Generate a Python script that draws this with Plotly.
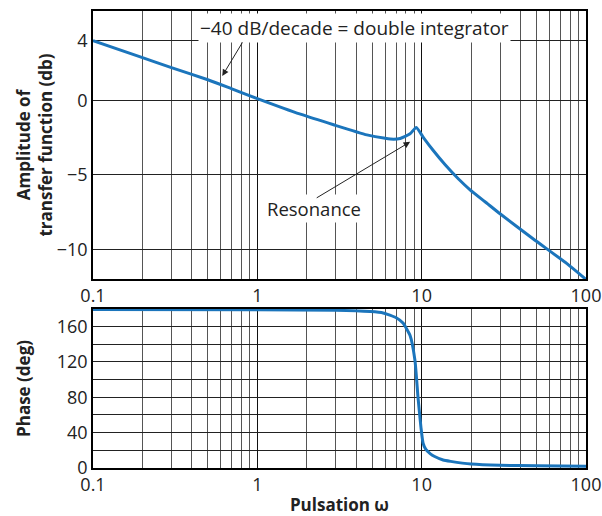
import numpy as np
import plotly.graph_objects as go

# ---- data ----
amp_w = [0.1, 0.2, 0.3, 0.5, 0.7, 1.0, 1.83, 2.91, 4.64, 6.0, 6.75, 7.4, 8.5, 9.27,
         10.3, 11.8, 13.9, 16.7, 19.7, 24.3, 30.0, 47.6, 76.6, 100]
amp_db = [4.0, 2.87, 2.2, 1.38, 0.77, 0.12, -0.93, -1.64, -2.32, -2.55, -2.61, -2.56, -2.25, -1.82,
          -2.54, -3.39, -4.33, -5.27, -6.01, -6.81, -7.62, -9.3, -10.97, -12.03]

ph_w = [0.1, 1.0, 3.0, 4.86, 5.83, 7.0, 7.7, 8.5, 9.1, 9.5, 9.9, 10.2, 10.6, 11.3, 12.0,
        13.5, 15.0, 20.0, 30.0, 50.0, 100.0]
ph_deg = [179.3, 179.0, 178.5, 177.0, 175.5, 170.0, 164.0, 150.0, 122.0, 80.0, 46.0, 28.0,
          21.0, 16.0, 13.0, 9.0, 7.5, 4.5, 3.0, 2.5, 2.0]

x_ticks = [0.1, 1, 10, 100]
x_tick_text = ["0.1", "1", "10", "100"]
x_minor = [m * d for d in (0.1, 1, 10) for m in range(2, 10)]
amp_ticks = [4, 0, -5, -10]
ph_ticks = [0, 40, 80, 120, 160]
ph_minor = [20, 60, 100, 140]

BLUE = "#1b75bc"
FONT = "Open Sans"
TXT = "#222"

fig = go.Figure()
fig.add_trace(go.Scatter(x=amp_w, y=amp_db, mode="lines", xaxis="x", yaxis="y",
                         line=dict(color=BLUE, width=3, shape="spline", smoothing=0.5),
                         showlegend=False))
fig.add_trace(go.Scatter(x=ph_w, y=ph_deg, mode="lines", xaxis="x2", yaxis="y2",
                         line=dict(color=BLUE, width=3, shape="spline", smoothing=0.5),
                         showlegend=False))

xcommon = dict(type="log", range=[-1, 2], tickvals=x_ticks, ticktext=x_tick_text,
               showgrid=True, gridcolor="#111", gridwidth=1.2,
               minor=dict(tickvals=x_minor, showgrid=True, gridcolor="#555", gridwidth=1, ticklen=0),
               showline=True, mirror=True, linecolor="black", linewidth=1.5,
               ticks="", zeroline=False, automargin=False, ticklabeloverflow="allow",
               tickfont=dict(family=FONT, size=18, color=TXT))
ycommon = dict(showgrid=True, gridcolor="#222", gridwidth=1, showline=True, mirror=True,
               linecolor="black", linewidth=1.5, ticks="", zeroline=False, automargin=False,
               tickfont=dict(family=FONT, size=18, color=TXT))

fig.update_layout(
    width=602, height=516,
    margin=dict(l=93, r=16, t=11, b=48),
    paper_bgcolor="white", plot_bgcolor="white",
    font=dict(family=FONT, size=17, color=TXT),
    xaxis=dict(**xcommon, domain=[0, 1], anchor="y"),
    yaxis=dict(**ycommon, domain=[0.4136, 1], range=[-12, 6], tickvals=amp_ticks,
               title=dict(text="<b>Amplitude of<br>transfer function (db)</b>", standoff=0,
                          font=dict(family=FONT, size=17, color=TXT))),
    xaxis2=dict(**xcommon, domain=[0, 1], anchor="y2",
                title=dict(text="<b>Pulsation ω</b>", standoff=6,
                           font=dict(family=FONT, size=17, color=TXT))),
    yaxis2=dict(**ycommon, domain=[0, 0.348], range=[0, 180], tickvals=ph_ticks,
                minor=dict(tickvals=ph_minor, showgrid=True, gridcolor="#222", gridwidth=1, ticklen=0),
                title=dict(text="<b>Phase (deg)</b>", standoff=22,
                           font=dict(family=FONT, size=17, color=TXT))),
)

# annotations (positions in data units; log axes take log10 of the value)
lab1_w, lab1_db = 3.89, 4.87
arr1_head = (0.612, 1.64)
arr1_tail = (0.822, 3.99)
lab2_w, lab2_db = 2.2, -7.28
arr2_head = (8.51, -2.79)
arr2_tail = (2.25, -6.61)

fig.add_annotation(x=np.log10(lab1_w), y=lab1_db, xref="x", yref="y",
                   text="−40 dB/decade = double integrator", showarrow=False,
                   bgcolor="white", borderpad=1, font=dict(family=FONT, size=19, color=TXT))
fig.add_annotation(x=np.log10(lab2_w), y=lab2_db, xref="x", yref="y",
                   text="Resonance", showarrow=False,
                   bgcolor="white", borderpad=1, font=dict(family=FONT, size=18.5, color=TXT))
for head, tail in ((arr1_head, arr1_tail), (arr2_head, arr2_tail)):
    fig.add_annotation(x=np.log10(head[0]), y=head[1], ax=np.log10(tail[0]), ay=tail[1],
                       xref="x", yref="y", axref="x", ayref="y", text="",
                       showarrow=True, arrowhead=2, arrowsize=1.3, arrowwidth=1,
                       arrowcolor=TXT, standoff=0)

# remove the default 8px page margin so the 602x516 figure fills the window exactly
fig.write_html("out.html", config={"displayModeBar": False},
               post_script="document.body.style.margin='0';document.body.style.overflow='hidden';")
